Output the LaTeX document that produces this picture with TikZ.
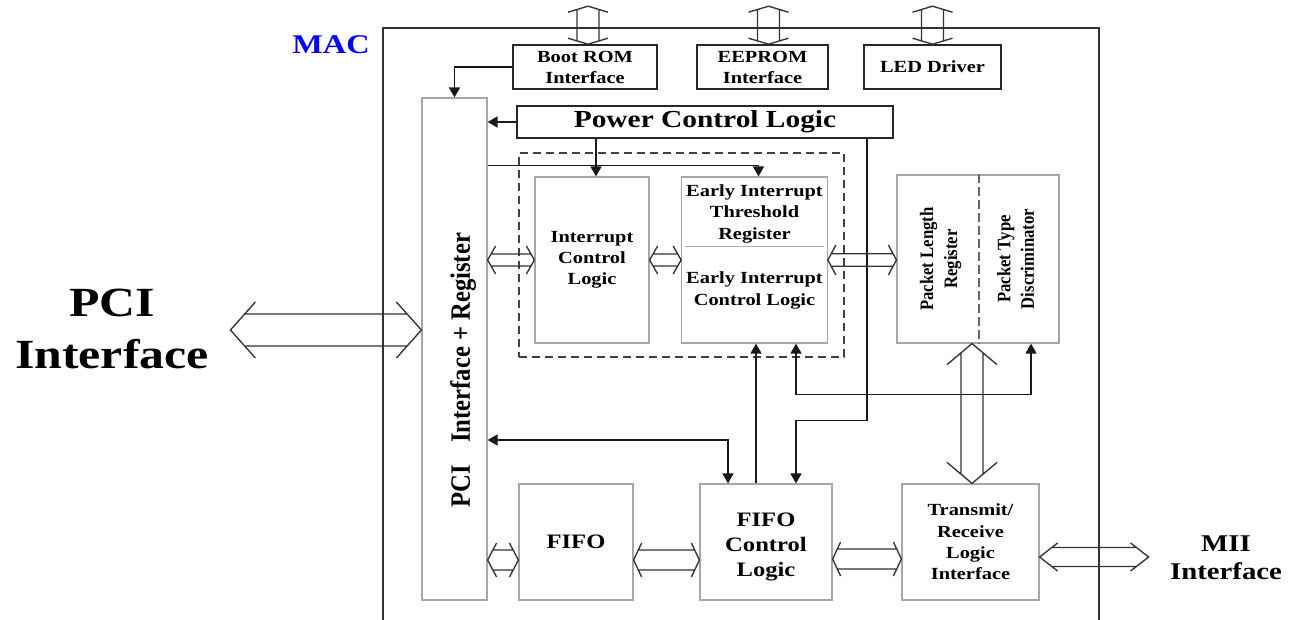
\documentclass[tikz,border=0pt]{standalone}
\usepackage{fontspec}
\setmainfont[FakeStretch=1.2]{Liberation Serif}
\newfontfamily\rotfont[FakeStretch=0.88]{Liberation Serif}
\usetikzlibrary{arrows.meta,calc}
\newcommand\fsz[2]{\fontsize{#1}{#2}\selectfont\bfseries}
% hollow bus arrow: start, end, half shaft, half head, head length (numbers in pt)
\newcommand\busarrow[5]{%
  \path (#1) coordinate (bA) (#2) coordinate (bB);
  \path ($(bA)!#5pt!(bB)$) coordinate (hA) ($(bB)!#5pt!(bA)$) coordinate (hB);
  \path ($(bA)!{(#5*#3/#4)*1pt}!(bB)$) coordinate (sA) ($(bB)!{(#5*#3/#4)*1pt}!(bA)$) coordinate (sB);
  \draw[busline] ($(sA)!#3pt!90:(bB)$) -- ($(sB)!#3pt!-90:(bA)$)
                 ($(sA)!#3pt!-90:(bB)$) -- ($(sB)!#3pt!90:(bA)$)
                 ($(hA)!#4pt!90:(bB)$) -- (bA) -- ($(hA)!#4pt!-90:(bB)$)
                 ($(hB)!#4pt!90:(bA)$) -- (bB) -- ($(hB)!#4pt!-90:(bA)$);
}
\begin{document}
\begin{tikzpicture}[x=1pt,y=-1pt,
  darkbox/.style={draw=black!85, line width=1.6pt, inner sep=0pt, align=center},
  graybox/.style={draw=black!35, line width=1.2pt, inner sep=0pt, align=center},
  conn/.style={line width=1.6pt, draw=black!90, -{Triangle[length=10pt,width=11pt]}},
  conn2/.style={line width=1.6pt, draw=black!90, {Triangle[length=10pt,width=11pt]}-{Triangle[length=10pt,width=11pt]}},
  busline/.style={line width=1.35pt, draw=black!80, line join=miter},
  lbl/.style={inner sep=0pt, align=center},
]
\useasboundingbox (0,0) rectangle (1297,619);

% outer MAC frame
\node[draw=black!80, line width=1.6pt, minimum width=716pt, minimum height=620pt, inner sep=0pt] (macbox) at (741,338) {};
\node[lbl, font=\fsz{27}{30}, text=blue] (mac) at (331,45) {MAC};

% top boxes
\node[darkbox, minimum width=144pt, minimum height=44pt, font=\fsz{17}{21}] (boot) at (585,67) {Boot ROM\\Interface};
\node[darkbox, minimum width=131pt, minimum height=44pt, font=\fsz{17}{21}] (eeprom) at (762.5,67) {EEPROM\\Interface};
\node[darkbox, minimum width=137pt, minimum height=44pt, font=\fsz{17}{21}] (led) at (932.5,67) {LED Driver};
\node[darkbox, minimum width=376pt, minimum height=32pt, font=\fsz{24.5}{28}] (power) at (705,122) {Power Control Logic};

% PCI interface + register
\node[graybox, minimum width=65pt, minimum height=502pt] (pci) at (454.5,349) {};
\node[rotate=90, lbl, font=\rotfont\fsz{28}{32}] (pcilbl) at (463,370) {PCI\hspace{22pt}Interface + Register};

% interrupt group
\node[draw=black!75, line width=1.3pt, dash pattern=on 8pt off 5pt, minimum width=325pt, minimum height=204pt, inner sep=0pt] (grp) at (681.5,255) {};
\node[graybox, minimum width=114pt, minimum height=166pt, font=\fsz{17}{21}] (intr) at (592,260) {Interrupt\\Control\\Logic};
\node[graybox, minimum width=145.5pt, minimum height=166pt] (early) at (754.5,260) {};
\draw[black!30, line width=1pt] ($(early.west)+(4,-14)$) -- ($(early.east)+(-4,-14)$);
\node[lbl, font=\fsz{17}{21.5}] (earlyA) at (754.5,213.5) {Early Interrupt\\Threshold\\Register};
\node[lbl, font=\fsz{17}{21.7}] (earlyB) at (754.5,290.5) {Early Interrupt\\Control Logic};

% packet box
\node[graybox, minimum width=162pt, minimum height=168pt] (packet) at (978,259) {};
\draw[black!60, line width=1.3pt, dash pattern=on 9pt off 4pt] ($(packet.north)+(1,0)$) -- ($(packet.south)+(1,0)$);
\node[rotate=90, lbl, font=\rotfont\fsz{19}{24}] (plen) at (940.5,259) {Packet Length\\Register};
\node[rotate=90, lbl, font=\rotfont\fsz{19}{23.5}] (ptype) at (1015.5,259) {Packet Type\\Discriminator};

% bottom row
\node[graybox, minimum width=114pt, minimum height=116pt, font=\fsz{20.5}{25}] (fifo) at (576,542) {FIFO};
\node[graybox, minimum width=132pt, minimum height=116pt] (fifoc) at (766,542) {};
\node[lbl, font=\fsz{20.5}{25}] (fifoclbl) at (766,547) {FIFO\\Control\\Logic};
\node[graybox, minimum width=137pt, minimum height=116pt, font=\fsz{17}{21.3}] (trx) at (970.5,542) {Transmit/\\Receive\\Logic\\Interface};

% outside labels
\node[lbl, font=\fsz{41.5}{52}] (pcitxt) at (112,329.3) {PCI\\Interface};
\node[lbl, font=\fsz{24}{28.3}] (miitxt) at (1226,558) {MII\\Interface};

% connectors
\draw[conn] (boot.west) -| (pci.north);
\draw[conn] (power.west) -- (power.west -| pci.east);
\path ($(intr.north)+(4,0)$) coordinate (intrIn);
\draw[conn] (power.south -| intrIn) -- (intrIn);
\path ($(pci.north east)+(0,68)$) coordinate (pciA);
\draw[conn] (pciA) -| ($(early.north)+(4,0)$);
\draw[conn2] ($(early.south)+(41.5,0)$) -- ++(0,51) -| ($(packet.south)+(53,0)$);
\path ($(early.south)+(1.5,0)$) coordinate (earlyIn);
\draw[conn] (fifoc.north -| earlyIn) -- (earlyIn);
\path ($(power.south east)+(-27,0)$) coordinate (pwrOut);
\draw[conn] (pwrOut) |- ($(fifoc.north)+(30,-63)$) -- ($(fifoc.north)+(30,0)$);
\draw[conn2] ($(pci.east)+(0,91)$) -| ($(fifoc.north)+(-38,0)$);

% hollow bus arrows
\busarrow{$(boot.north)+(3,-38)$}{$(boot.north)+(3,0)$}{11}{20}{6}
\busarrow{$(eeprom.north)+(6,-38)$}{$(eeprom.north)+(6,0)$}{11}{20}{6}
\busarrow{$(led.north)+(0,-38)$}{led.north}{11}{20}{6}
\busarrow{$(pci.west)+(-191,-19)$}{$(pci.west)+(0,-19)$}{16}{28}{25}
\busarrow{pci.east |- intr.west}{intr.west}{6}{14}{8}
\busarrow{intr.east}{early.west}{6}{14}{8}
\busarrow{early.east}{packet.west |- early.east}{6.3}{15}{8}
\busarrow{$(packet.south)+(-6,0)$}{$(trx.north)+(1.5,0)$}{11}{25}{21}
\busarrow{$(pci.east |- fifo.west)+(0,18)$}{$(fifo.west)+(0,18)$}{10}{17}{9}
\busarrow{$(fifo.east)+(0,18)$}{$(fifoc.west)+(0,18)$}{10}{17}{8}
\busarrow{$(fifoc.east)+(0,17)$}{$(trx.west)+(0,17)$}{10}{17}{8}
\busarrow{$(trx.east)+(0,15)$}{$(trx.east)+(109,15)$}{9.5}{14}{18}
\end{tikzpicture}
\end{document}
